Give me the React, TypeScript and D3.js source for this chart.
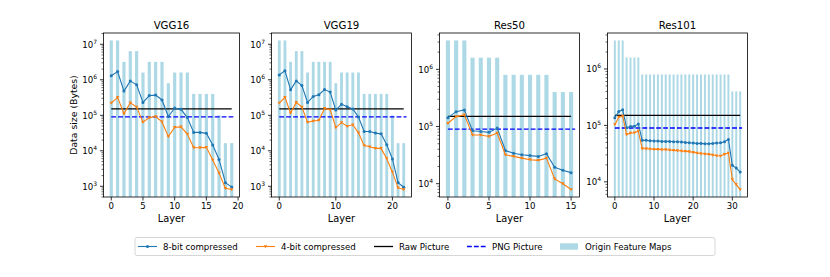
import React, { useEffect, useRef } from 'react';
import * as d3 from 'd3';

// reference sizes (bytes)
const rawPicture = 150528;
const pngPicture = 90000;

// VGG16
const vgg16Maps = [12.8e6, 12.8e6, 3.2e6, 6.4e6, 6.4e6, 1.6e6, 3.2e6, 3.2e6, 3.2e6, 8e5, 1.6e6, 1.6e6, 1.6e6, 4e5, 4e5, 4e5, 4e5, 1e5, 16384, 16384];
const vgg16Bit8 = [1.3e6, 1.7e6, 4.8e5, 9.3e5, 7.2e5, 2.3e5, 3.6e5, 3.7e5, 2.7e5, 9.2e4, 1.6e5, 1.47e5, 8.6e4, 3.3e4, 3.3e4, 3.1e4, 1.46e4, 5.7e3, 1.26e3, 950];
const vgg16Bit4 = [2.2e5, 3.2e5, 1.1e5, 2.25e5, 1.7e5, 6.4e4, 8.6e4, 9.2e4, 6.5e4, 2.5e4, 4.6e4, 4.7e4, 2.95e4, 1.22e4, 1.22e4, 1.25e4, 5.5e3, 2.35e3, 880, 810];

// VGG19
const vgg19Maps = [12.8e6, 12.8e6, 3.2e6, 6.4e6, 6.4e6, 1.6e6, 3.2e6, 3.2e6, 3.2e6, 3.2e6, 8e5, 1.6e6, 1.6e6, 1.6e6, 1.6e6, 4e5, 4e5, 4e5, 4e5, 4e5, 1e5, 16384, 16384];
const vgg19Bit8 = [1.37e6, 1.8e6, 5.2e5, 9.3e5, 6.9e5, 2.3e5, 3.4e5, 3.8e5, 5.3e5, 4.5e5, 1.4e5, 2.06e5, 1.73e5, 1.5e5, 8.9e4, 3.5e4, 3.5e4, 3.15e4, 3.0e4, 1.48e4, 5.9e3, 1.27e3, 940];
const vgg19Bit4 = [2.2e5, 3.2e5, 1.15e5, 2.3e5, 1.7e5, 6.3e4, 6.9e4, 7.2e4, 1.56e5, 1.43e5, 4.5e4, 6.2e4, 4.9e4, 5.4e4, 3.2e4, 1.4e4, 1.3e4, 1.17e4, 1.17e4, 6.0e3, 2.5e3, 900, 810];

// Res50
const res50Maps = [3.2e6, 3.2e6, 3.2e6, 1.6e6, 1.6e6, 1.6e6, 1.6e6, 8e5, 8e5, 8e5, 8e5, 8e5, 8e5, 4e5, 4e5, 4e5];
const res50Bit8 = [1.43e5, 1.82e5, 1.95e5, 8.4e4, 8.2e4, 7.9e4, 9.4e4, 3.8e4, 3.4e4, 3.2e4, 3.1e4, 3.0e4, 3.35e4, 1.94e4, 1.72e4, 1.56e4];
const res50Bit4 = [1.14e5, 1.49e5, 1.6e5, 7.1e4, 7.1e4, 6.7e4, 7.7e4, 3.2e4, 3.0e4, 2.8e4, 2.63e4, 2.56e4, 2.8e4, 1.21e4, 1.0e4, 7.9e3];

// Res101
const res101Maps = [3.2e6, 3.2e6, 3.2e6, 1.6e6, 1.6e6, 1.6e6, 1.6e6,
  8e5, 8e5, 8e5, 8e5, 8e5, 8e5, 8e5, 8e5, 8e5, 8e5, 8e5, 8e5, 8e5, 8e5, 8e5, 8e5, 8e5, 8e5, 8e5, 8e5, 8e5, 8e5, 8e5,
  4e5, 4e5, 4e5];
const res101Bit8 = [1.37e5, 1.77e5, 1.89e5, 9.1e4, 9.6e4, 9.7e4, 1.06e5,
  5.43e4, 5.43e4, 5.35e4, 5.28e4, 5.28e4, 5.21e4, 5.21e4, 5.21e4, 5.14e4, 5.14e4, 5.07e4, 5.0e4, 4.93e4, 4.87e4, 4.8e4, 4.8e4, 4.74e4, 4.74e4, 4.8e4, 4.87e4, 4.93e4, 5.14e4, 5.65e4,
  1.96e4, 1.76e4, 1.49e4];
const res101Bit4 = [1.03e5, 1.4e5, 1.46e5, 6.9e4, 7.3e4, 7.4e4, 7.9e4,
  3.86e4, 3.86e4, 3.81e4, 3.76e4, 3.76e4, 3.71e4, 3.71e4, 3.66e4, 3.61e4, 3.56e4, 3.51e4, 3.47e4, 3.42e4, 3.33e4, 3.24e4, 3.15e4, 3.11e4, 3.07e4, 2.98e4, 2.9e4, 2.87e4, 3.07e4, 3.24e4,
  1.1e4, 8.9e3, 7.3e3];

const panels = [
  { title: 'VGG16', maps: vgg16Maps, bit8: vgg16Bit8, bit4: vgg16Bit4, xTicks: [0, 5, 10, 15, 20], left: 103.5, right: 239.5 },
  { title: 'VGG19', maps: vgg19Maps, bit8: vgg19Bit8, bit4: vgg19Bit4, xTicks: [0, 10, 20], left: 271.5, right: 411.5 },
  { title: 'Res50', maps: res50Maps, bit8: res50Bit8, bit4: res50Bit4, xTicks: [0, 5, 10, 15], left: 439.5, right: 579.5 },
  { title: 'Res101', maps: res101Maps, bit8: res101Bit8, bit4: res101Bit4, xTicks: [0, 10, 20, 30], left: 607.5, right: 747.5 },
];

const legendLabels = ['8-bit compressed', '4-bit compressed', 'Raw Picture', 'PNG Picture', 'Origin Feature Maps'];

const BLUE = '#1f77b4';
const ORANGE = '#ff7f0e';
const BAR = '#add8e6';
const FONT = 'DejaVu Sans, sans-serif';

const triangle = (cx: number, cy: number, s: number) =>
  `M${cx - s},${cy - s * 0.8}L${cx + s},${cy - s * 0.8}L${cx},${cy + s}Z`;

const App = () => {
  const ref = useRef<SVGSVGElement>(null);

  useEffect(() => {
    const svg = d3.select(ref.current);
    svg.selectAll('*').remove();
    const top = 33;
    const bottom = 197;

    panels.forEach((p, pi) => {
      const n = p.maps.length;
      const idx = d3.range(n);
      const pad = 0.05 * (n - 0.5);
      const x = d3.scaleLinear().domain([-0.25 - pad, n - 0.75 + pad]).range([p.left, p.right]);
      const all = [...p.bit8, ...p.bit4, ...p.maps, rawPicture, pngPicture];
      const lo = Math.log10(d3.min(all) as number);
      const hi = Math.log10(d3.max(all) as number);
      const m = 0.05 * (hi - lo);
      const dLo = lo - m, dHi = hi + m;
      const y = d3.scaleLog().domain([10 ** dLo, 10 ** dHi]).range([bottom, top]);
      const g = svg.append('g');

      // bars
      g.append('g').selectAll('rect').data(idx).enter().append('rect')
        .attr('x', i => x(i - 0.25))
        .attr('width', x(0.25) - x(-0.25))
        .attr('y', i => y(p.maps[i]))
        .attr('height', i => bottom - y(p.maps[i]))
        .attr('fill', BAR);

      // reference lines
      g.append('line')
        .attr('x1', x(0)).attr('x2', x(n - 1))
        .attr('y1', y(rawPicture)).attr('y2', y(rawPicture))
        .attr('stroke', '#000').attr('stroke-width', 1.3);
      g.append('line')
        .attr('x1', x(0)).attr('x2', x(n - 0.5))
        .attr('y1', y(pngPicture)).attr('y2', y(pngPicture))
        .attr('stroke', '#0000ff').attr('stroke-width', 1.3)
        .attr('stroke-dasharray', '4.8,2.1');

      const line = d3.line<number>().x((_, i) => x(i));
      // 8-bit
      g.append('path').attr('d', line.y(d => y(d))(p.bit8))
        .attr('fill', 'none').attr('stroke', BLUE).attr('stroke-width', 1.1);
      g.append('g').selectAll('circle').data(p.bit8).enter().append('circle')
        .attr('cx', (_, i) => x(i)).attr('cy', d => y(d)).attr('r', 1.5).attr('fill', BLUE);
      // 4-bit
      g.append('path').attr('d', line.y(d => y(d))(p.bit4))
        .attr('fill', 'none').attr('stroke', ORANGE).attr('stroke-width', 1.1);
      g.append('g').selectAll('path').data(p.bit4).enter().append('path')
        .attr('d', (d, i) => triangle(x(i), y(d), 1.7)).attr('fill', ORANGE);

      // spines
      g.append('rect')
        .attr('x', p.left).attr('y', top)
        .attr('width', p.right - p.left).attr('height', bottom - top)
        .attr('fill', 'none').attr('stroke', '#000').attr('stroke-width', 0.8);

      // x ticks
      p.xTicks.forEach(t => {
        g.append('line').attr('x1', x(t)).attr('x2', x(t))
          .attr('y1', bottom).attr('y2', bottom + 3.5)
          .attr('stroke', '#000').attr('stroke-width', 0.8);
        g.append('text').attr('x', x(t)).attr('y', bottom + 12)
          .attr('text-anchor', 'middle').attr('font-size', 8.6).attr('font-family', FONT)
          .text(t);
      });

      // y ticks
      for (let k = Math.floor(dLo); k <= Math.ceil(dHi); k++) {
        if (k >= dLo && k <= dHi) {
          const yy = y(10 ** k);
          g.append('line').attr('x1', p.left - 3.5).attr('x2', p.left)
            .attr('y1', yy).attr('y2', yy).attr('stroke', '#000').attr('stroke-width', 0.8);
          const t = g.append('text').attr('x', p.left - 6.5).attr('y', yy + 3.5)
            .attr('text-anchor', 'end').attr('font-size', 8.6).attr('font-family', FONT);
          t.append('tspan').text('10');
          t.append('tspan').attr('font-size', 6).attr('dy', -4).text(String(k));
        }
        for (let j = 2; j <= 9; j++) {
          const v = Math.log10(j) + k;
          if (v >= dLo && v <= dHi) {
            const yy = y(10 ** v);
            g.append('line').attr('x1', p.left - 2).attr('x2', p.left)
              .attr('y1', yy).attr('y2', yy).attr('stroke', '#000').attr('stroke-width', 0.6);
          }
        }
      }

      // title and x label
      g.append('text').attr('x', (p.left + p.right) / 2).attr('y', 28.5)
        .attr('text-anchor', 'middle').attr('font-size', 10.2).attr('font-family', FONT)
        .text(p.title);
      g.append('text').attr('x', (p.left + p.right) / 2).attr('y', 221.5)
        .attr('text-anchor', 'middle').attr('font-size', 9.8).attr('font-family', FONT)
        .text('Layer');
      if (pi === 0) {
        g.append('text')
          .attr('transform', `translate(76.5,${(top + bottom) / 2}) rotate(-90)`)
          .attr('text-anchor', 'middle').attr('font-size', 9.3).attr('font-family', FONT)
          .text('Data size (Bytes)');
      }
    });

    // legend
    const lg = svg.append('g');
    lg.append('rect').attr('x', 135).attr('y', 237.5).attr('width', 580).attr('height', 18)
      .attr('rx', 2).attr('fill', '#fff').attr('fill-opacity', 0.8)
      .attr('stroke', '#cccccc').attr('stroke-width', 0.8);
    const handleX = [138, 256, 374, 467, 560];
    const cy = 246.5;
    legendLabels.forEach((lab, i) => {
      const hx = handleX[i];
      if (i === 0) {
        lg.append('line').attr('x1', hx).attr('x2', hx + 19).attr('y1', cy).attr('y2', cy)
          .attr('stroke', BLUE).attr('stroke-width', 1.1);
        lg.append('circle').attr('cx', hx + 9.5).attr('cy', cy).attr('r', 1.5).attr('fill', BLUE);
      } else if (i === 1) {
        lg.append('line').attr('x1', hx).attr('x2', hx + 19).attr('y1', cy).attr('y2', cy)
          .attr('stroke', ORANGE).attr('stroke-width', 1.1);
        lg.append('path').attr('d', triangle(hx + 9.5, cy, 1.7)).attr('fill', ORANGE);
      } else if (i === 2) {
        lg.append('line').attr('x1', hx).attr('x2', hx + 19).attr('y1', cy).attr('y2', cy)
          .attr('stroke', '#000').attr('stroke-width', 1.3);
      } else if (i === 3) {
        lg.append('line').attr('x1', hx).attr('x2', hx + 19).attr('y1', cy).attr('y2', cy)
          .attr('stroke', '#0000ff').attr('stroke-width', 1.3).attr('stroke-dasharray', '4.8,2.1');
      } else {
        lg.append('rect').attr('x', hx).attr('y', cy - 3.2).attr('width', 18).attr('height', 6.4)
          .attr('fill', BAR);
      }
      lg.append('text').attr('x', hx + 25).attr('y', cy + 3.1)
        .attr('font-size', 8.6).attr('font-family', FONT).text(lab);
    });
  }, []);

  return (
    <svg ref={ref} width={830} height={277}
      style={{ position: 'absolute', left: 0, top: 0, background: '#fff' }} />
  );
};

export default App;
